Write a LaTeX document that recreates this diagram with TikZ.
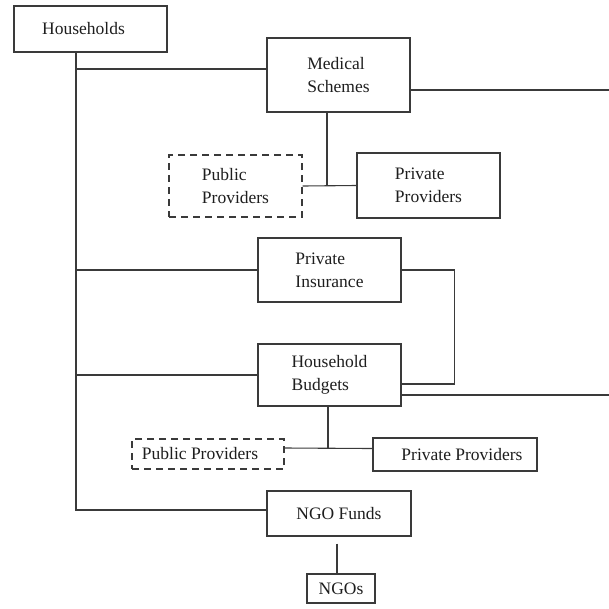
\documentclass[tikz,border=0pt]{standalone}
\usepackage{fontspec}
\setmainfont{Liberation Serif}
\usetikzlibrary{positioning}
\definecolor{flowInk}{HTML}{1E1E1E}
\definecolor{flowLine}{HTML}{3A3A3A}
\tikzset{
  every picture/.style={font=\fontsize{17.5}{23}\selectfont, text=flowInk},
  flow box/.style={draw=flowLine, line width=1.1pt, fill=white, align=left,
    inner sep=0pt},
  flow dashed/.style={flow box, dash pattern=on 7pt off 5pt},
  flow line/.style={draw=flowLine, line width=1.1pt}
}
\begin{document}
\begin{tikzpicture}[x=1pt,y=-1pt]
  \useasboundingbox (0,0) rectangle (609,608);
  % funding sources
  \node[flow box, minimum width=153pt, minimum height=46pt] (households) at (90.5,29) {Households\hspace*{14pt}};
  \node[flow box, minimum width=143pt, minimum height=74pt] (medical) at (338.5,75) {Medical\\Schemes};
  \node[flow box, minimum width=143pt, minimum height=64pt] (insurance) at (329.5,270) {Private\\Insurance};
  \node[flow box, minimum width=143pt, minimum height=62pt] (budgets) at (329.5,375) {Household\\Budgets};
  \node[flow box, minimum width=144pt, minimum height=45pt] (ngofunds) at (339,513.5) {NGO Funds};
  % providers
  \node[flow dashed, minimum width=133pt, minimum height=62pt] (pubprovA) at (235.5,186) {Public\\Providers};
  \node[flow box, minimum width=143pt, minimum height=65pt] (privprovA) at (428.5,185.5) {Private\\Providers};
  \node[flow dashed, minimum width=152pt, minimum height=30pt] (pubprovB) at (208,454) {Public Providers\hspace*{16pt}};
  \node[flow box, minimum width=164pt, minimum height=33pt] (privprovB) at (455,454.5) {\hspace*{14pt}Private Providers};
  \node[flow box, minimum width=68pt, minimum height=29pt] (ngos) at (341,588.5) {NGOs};
  % trunk and ends
  \coordinate (trunk) at (76,52);
  \coordinate (outA) at (609,90);
  \coordinate (outB) at (609,395);
  \draw[flow line] (trunk) |- ([yshift=3.5pt]ngofunds.west);
  \draw[flow line] (trunk |- medical.west) ++(0,-6) -- ([yshift=6pt]medical.west);
  \draw[flow line] (trunk |- insurance.west) -- (insurance.west);
  \draw[flow line] (trunk |- budgets.west) -- (budgets.west);
  \draw[flow line] ([yshift=-15pt]medical.east) -- (outA);
  \draw[flow line] ([xshift=-11.5pt]medical.south) -- ([xshift=-11.5pt]medical.south |- privprovA.west);
  \draw[flow line] (pubprovA.east) -- (privprovA.west);
  \draw[flow line] (insurance.east) -- ++(53,0) |- ([yshift=-9pt]budgets.east);
  \draw[flow line] ([yshift=-20pt]budgets.east) -- (outB);
  \draw[flow line] ([xshift=-1.5pt]budgets.south) -- ([xshift=-1.5pt,yshift=6pt]budgets.south |- privprovB.west);
  \draw[flow line] ([yshift=6pt]pubprovB.east) -- ([yshift=6pt]privprovB.west);
  \draw[flow line, shorten <=7pt] ([xshift=-4pt]ngos.north |- ngofunds.south) -- ([xshift=-4pt]ngos.north);
\end{tikzpicture}
\end{document}
